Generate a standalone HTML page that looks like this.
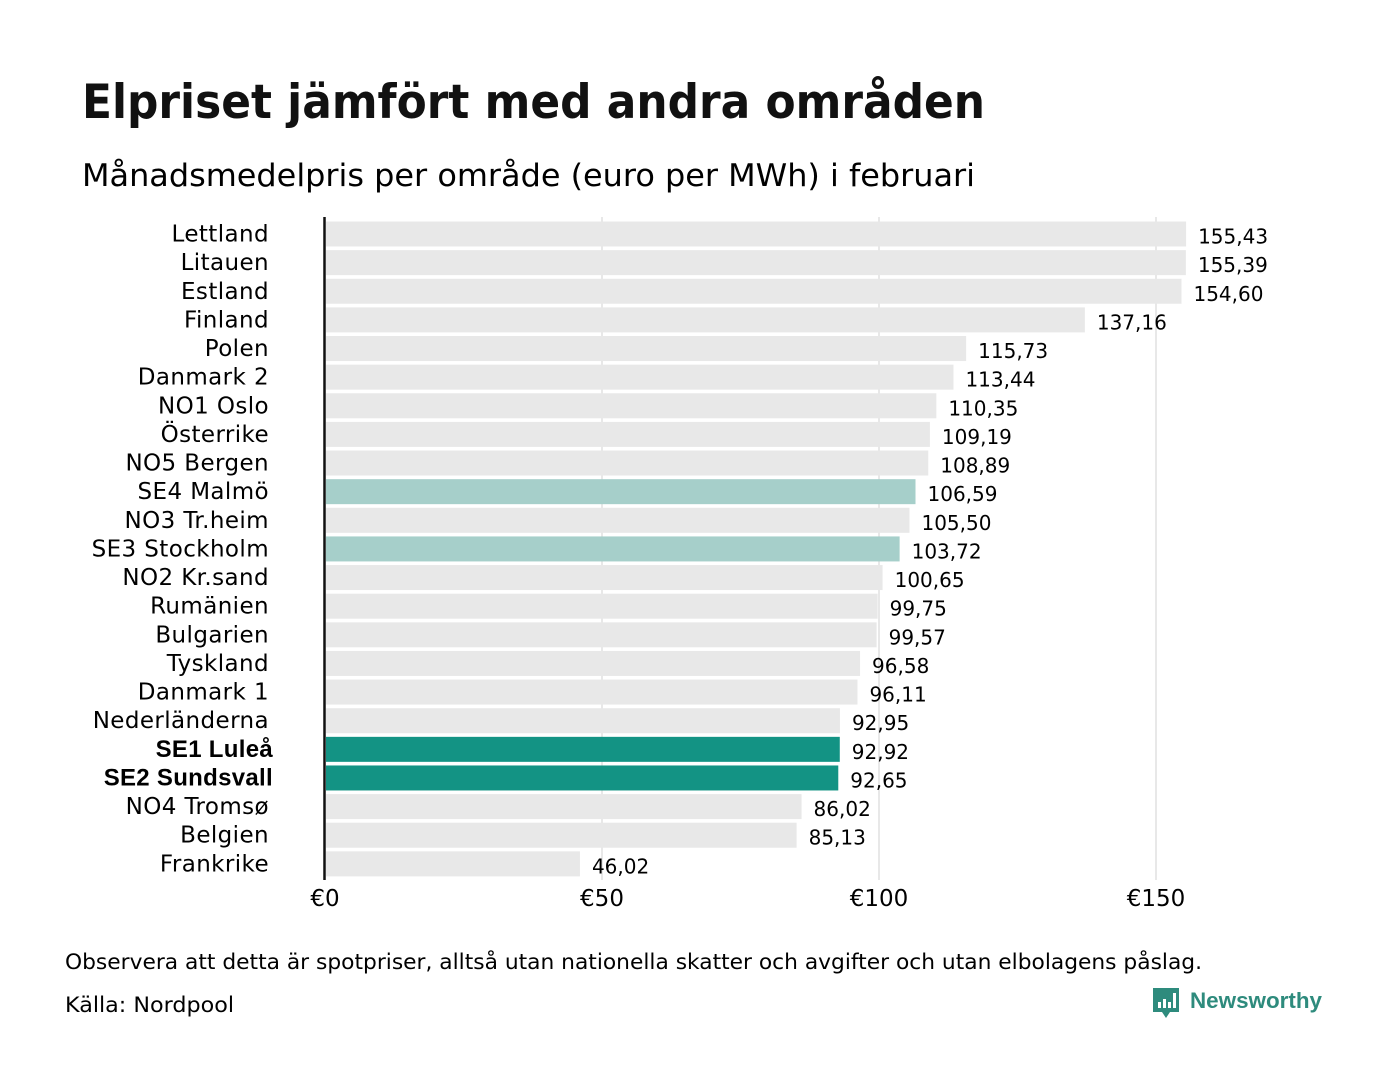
<!DOCTYPE html>
<html><head><meta charset="utf-8"><style>
body{margin:0;width:1400px;height:1080px;background:#fff;font-family:"DejaVu Sans","Liberation Sans",sans-serif;color:#111;overflow:hidden}
</style></head><body>
<svg width="1400" height="1080">
<text x="82" y="118" font-size="47" font-weight="bold" textLength="903" lengthAdjust="spacingAndGlyphs" fill="#111">Elpriset jämfört med andra områden</text>
<text x="82" y="186" font-size="31" textLength="893" lengthAdjust="spacingAndGlyphs">Månadsmedelpris per område (euro per MWh) i februari</text>
<g id="grid"></g><g id="bars"></g>
<line x1="324.5" y1="217" x2="324.5" y2="880" stroke="#111" stroke-width="2.5"/>
<text x="65" y="969" font-size="21" textLength="1137" lengthAdjust="spacingAndGlyphs">Observera att detta är spotpriser, alltså utan nationella skatter och avgifter och utan elbolagens påslag.</text>
<text x="65" y="1012" font-size="21" textLength="169" lengthAdjust="spacingAndGlyphs">Källa: Nordpool</text>
<g>
<path d="M1153 988h26v24h-9l-4 6l-4-6h-9z" fill="#2e8b7d"/>
<rect x="1158" y="1002" width="3" height="6" fill="#fff"/><rect x="1163" y="999" width="3" height="9" fill="#fff"/><rect x="1168" y="1002" width="3" height="6" fill="#fff"/><rect x="1173" y="993" width="3" height="15" fill="#fff"/>
<text x="1190" y="1008" font-size="22" font-weight="bold" fill="#2e8b7d" textLength="132" lengthAdjust="spacingAndGlyphs" font-family="Liberation Sans, sans-serif">Newsworthy</text>
</g>
</svg>
<script>
const categories=["Lettland","Litauen","Estland","Finland","Polen","Danmark  2","NO1 Oslo","Österrike","NO5 Bergen","SE4 Malmö","NO3 Tr.heim","SE3 Stockholm","NO2 Kr.sand","Rumänien","Bulgarien","Tyskland","Danmark  1","Nederländerna","SE1 Luleå","SE2 Sundsvall","NO4 Tromsø","Belgien","Frankrike"];
const values=[155.43,155.39,154.60,137.16,115.73,113.44,110.35,109.19,108.89,106.59,105.50,103.72,100.65,99.75,99.57,96.58,96.11,92.95,92.92,92.65,86.02,85.13,46.02];
const tickValues=[0,50,100,150];
const tickLabels=["€0","€50","€100","€150"];
const ns="http://www.w3.org/2000/svg";
const x=v=>325+v*5.54;
const y=i=>221.5+i*28.63;
function el(t,a,p){const e=document.createElementNS(ns,t);for(const k in a)e.setAttribute(k,a[k]);p.appendChild(e);return e;}
const grid=document.getElementById('grid'),bars=document.getElementById('bars');
tickValues.forEach((v,i)=>{
 if(v>0){const l=el('line',{x1:x(v),x2:x(v),y1:217,y2:880,stroke:'#d0d0d0','stroke-width':1},grid);
 
 }
 const t=el('text',{x:x(v),y:906,'font-size':23,'text-anchor':'middle'},grid);t.textContent=tickLabels[i];
 
 
});
categories.forEach((c,i)=>{
 const bold=c.startsWith("SE1")||c.startsWith("SE2");
 const light=c.startsWith("SE3")||c.startsWith("SE4");
 const fill=bold?'#139384':light?'#a6cfca':'#e8e8e8';
 const r=el('rect',{x:326,y:y(i),width:x(values[i])-326,height:25,fill:fill},bars);
 
 
 const lb=el('text',{x:bold?273:269,y:y(i)+20,'font-size':bold?24:23,'text-anchor':'end','font-weight':bold?'bold':'normal','font-family':bold?'Liberation Sans, sans-serif':'DejaVu Sans, sans-serif','xml:space':'preserve','letter-spacing':bold?0.3:0.4},bars);
 lb.textContent=c;
 
 
 const vl=el('text',{x:x(values[i])+12,y:y(i)+22,'font-size':20},bars);
 vl.textContent=values[i].toFixed(2).replace('.',',');
 
 
});
</script>
</body></html>
